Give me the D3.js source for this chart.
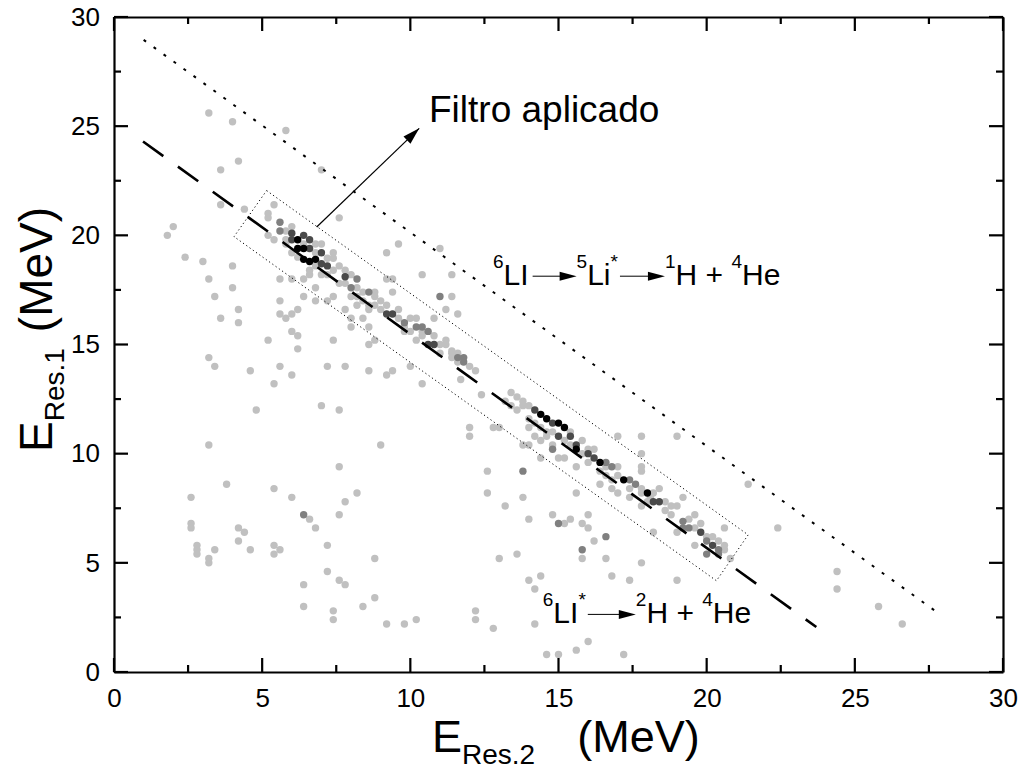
<!DOCTYPE html>
<html>
<head>
<meta charset="utf-8">
<script src="https://cdn.jsdelivr.net/npm/d3@7"></script>
<style>
body{margin:0;background:#fff;}
svg{display:block;font-family:"Liberation Sans",Arial,sans-serif;}
text{white-space:pre;}
</style>
</head>
<body>
<div id="chart"></div>
<script>
// events (E_Res.2, E_Res.1) in MeV, grouped by grey level
var lightPts = [
[3.2,25.6],[4.0,25.2],[5.8,24.8],[4.2,23.4],[3.6,23.0],[7.0,23.0],[3.6,21.4],[4.4,21.2],[5.4,21.4],[5.2,21.0],[5.2,20.8],[7.6,20.8],
[2.0,20.4],[1.8,20.0],[5.2,20.0],[5.4,19.8],[5.8,19.8],[2.4,19.0],[3.0,18.8],[4.0,18.6],[3.2,18.0],[4.0,17.6],[3.4,17.2],[4.2,16.6],
[3.6,16.2],[4.2,16.0],[5.2,15.2],[3.2,14.4],[3.4,14.0],[4.6,13.8],[5.4,13.2],[5.6,14.0],[6.0,13.6],[6.2,14.8],[6.0,15.6],[6.2,15.4],
[5.6,16.4],[5.8,16.2],[6.0,16.4],[6.2,16.6],[5.6,17.0],[5.6,18.0],[6.0,18.0],[6.4,18.0],[6.6,18.2],[6.4,17.2],[6.8,17.6],[6.8,17.0],
[7.2,17.0],[7.4,17.2],[7.4,15.2],[7.2,14.0],[7.8,14.0],[7.8,16.6],[8.0,16.2],[8.0,15.8],[8.4,16.2],[8.2,16.8],[8.6,15.0],[8.6,13.8],
[8.6,15.8],[9.6,19.6],[9.2,19.2],[11.0,19.4],[10.4,18.2],[11.4,18.2],[9.2,18.0],[9.4,18.0],[11.4,17.2],[9.4,17.4],[8.8,17.2],
[11.2,16.6],[8.6,16.8],[11.6,16.4],[10.0,16.2],[10.2,16.2],[10.8,16.2],[9.8,15.6],[10.4,15.4],[10.0,15.6],[11.2,15.0],[11.4,14.6],
[11.6,14.6],[11.0,14.6],[12.2,13.8],[11.7,13.4],[10.0,14.0],[9.4,13.8],[9.2,13.6],[10.4,13.2],[8.8,15.2],
[4.8,12.0],[7.0,12.2],[7.6,12.0],[3.2,10.4],[7.6,9.4],[3.8,8.6],[2.6,8.0],[5.4,8.4],[6.0,8.0],[8.2,8.2],[7.8,7.8],[2.6,6.8],[2.6,6.6],
[6.6,7.0],[6.8,6.6],[7.6,7.2],[4.2,6.6],[4.4,6.4],[4.2,6.0],[2.8,5.8],[2.8,5.6],[2.8,5.4],[3.4,5.6],[3.2,5.2],[3.2,5.0],[4.6,5.6],
[5.4,5.8],[5.6,5.6],[5.4,5.4],[7.2,5.8],[7.2,4.6],[6.4,4.0],[7.6,4.2],[7.8,4.0],[6.4,3.0],[7.4,2.8],[7.4,2.4],[8.4,3.0],
[12.4,12.7],[13.2,12.4],[13.4,12.8],[13.6,12.6],[13.8,12.4],[14.0,12.2],[12.0,11.2],[12.0,10.8],[12.8,11.2],[13.0,11.2],[9.0,10.4],
[13.8,10.4],[14.0,10.4],[14.4,9.8],[12.6,9.2],[12.6,8.2],[13.2,7.6],[13.8,8.0],[14.0,7.0],[14.8,7.2],[15.2,6.8],[15.6,8.2],[15.4,7.0],
[15.8,6.8],[16.0,7.2],[16.0,6.6],[16.2,6.0],[15.8,5.2],[16.6,5.2],[16.8,4.4],[17.4,4.2],[17.8,5.0],[19.0,4.2],[8.8,5.2],[8.8,3.4],
[13.0,5.2],[13.6,5.4],[14.0,4.2],[14.4,4.4],[14.2,3.8],[9.2,2.2],[9.8,2.2],[10.2,2.4],[12.2,2.8],[12.2,2.4],[12.8,2.0],[14.2,2.2],
[14.6,0.8],[15.0,0.8],[15.6,1.0],[16.0,1.4],[17.2,0.8],[17.8,7.6],[17.8,8.2],[18.1,8.0],
[17.8,10.8],[19.0,10.8],[17.0,10.8],[17.8,10.0],[17.8,9.4],[17.8,9.2],[21.4,8.6],[18.4,8.4],[19.2,8.0],[19.6,7.2],[20.6,6.6],[22.4,6.6],
[24.4,4.6],[24.4,3.8],[25.8,3.0],[26.6,2.2],[18.2,6.4],[19.0,6.4],
[5.8,20.2],[6.0,20.4],[6.8,19.2],[7.2,18.95],[7.4,18.95],[7.4,18.4],[7.8,18.4],[7.6,17.8],[7.8,17.8],[8.4,17.4],[8.8,17.4],[9.0,17.0],
[9.2,16.8],[11.2,15.2],[11.4,14.7],[11.4,14.4],[6.2,19.0],[6.8,19.6],[5.8,19.6],[7.0,18.2],[8.2,17.2],[6.6,18.4],[9.6,16.6],[10.2,15.2],
[7.4,19.2],[8.0,18.2],[8.4,17.0],
[6.4,19.6],[6.8,18.6],[7.2,18.2],[7.6,18.6],[8.0,17.2],[8.6,16.6],[8.8,16.8],[9.0,16.6],[9.6,16.2],[9.8,15.8],[10.4,15.6],[10.8,15.4],
[11.0,15.0],[11.6,14.2],[12.0,14.0],[8.2,17.6],[7.0,19.6],[6.0,19.2],
[13.8,12.2],[14.0,11.6],[14.4,11.2],[14.6,11.0],[14.8,11.0],[15.2,10.6],[15.4,11.0],[15.8,10.6],[15.8,10.0],[16.0,9.6],[16.4,9.2],
[16.6,9.0],[16.8,8.8],[17.0,9.0],[16.2,10.2],[14.2,10.8],[14.8,10.4],[15.2,9.8],[15.6,9.4],[17.4,8.4],[17.8,8.4],[18.6,7.8],[18.6,7.4],
[18.8,7.2],[19.0,7.6],[19.6,6.6],[20.0,6.2],[20.6,5.6],[20.2,6.2],[19.6,5.8],[20.8,5.2],[18.0,7.8],[17.0,8.2],[16.4,8.6],[13.6,12.0],
[14.0,11.2],[15.0,9.8],
[14.2,11.4],[14.6,10.8],[15.4,10.4],[16.0,10.2],[16.6,9.4],[17.0,9.4],[17.4,8.0],[18.2,8.2],[18.8,7.6],[19.4,7.0],[19.8,6.8],[20.4,6.0],
[20.6,5.8],[13.4,12.2],[14.4,10.6],[16.8,8.4]
];
var midPts = [
[5.6,20.6],[5.6,20.2],[8.2,18.0],[8.0,17.6],[8.6,17.4],[9.8,16.0],[10.2,15.8],[10.4,15.8],[10.6,15.6],[11.6,14.4],[11.8,14.4],[11.8,14.2],
[11.0,17.2],[6.4,7.2],[13.8,9.2],[14.8,10.2],[15.0,6.8],[16.6,6.2],[15.8,5.6],[16.6,9.6],[16.8,9.4],[17.4,8.8],[17.6,8.6],[19.2,6.9],
[19.2,6.6],[19.4,6.6],[20.0,6.0],[20.4,5.6],[20.0,5.4],[20.4,5.4]
];
var darkPts = [
[6.0,20.1],[6.0,19.8],[6.4,20.0],[6.6,19.8],[6.6,19.4],[7.0,19.2],[7.0,18.7],[7.2,18.6],[7.8,18.1],[9.2,16.4],[9.4,16.4],[10.6,15.0],
[10.8,15.0],[14.2,12.0],[14.8,11.4],[15.0,10.8],[15.4,10.8],[15.6,10.4],[16.0,10.0],[16.2,9.8],[18.2,7.8],[18.4,7.8],[19.8,6.4],[20.2,5.8]
];
var blackPts = [
[6.2,19.8],[6.2,19.4],[6.4,19.4],[6.8,18.9],[6.4,18.9],[6.6,18.8],[14.4,11.8],[14.6,11.6],[15.0,11.4],[15.2,11.2],[15.6,10.2],[16.4,9.6],
[17.2,8.8],[18.0,8.2]
];
var shadeColors = ["#c0c0c0","#808080","#4a4a4a","#000000"];

// guide lines and the filter box (data units)
var fitLine = [[0.98,24.3],[23.7,2.06]];
var limitLine = [[1.0,28.95],[27.85,2.66]];
var filterBox = [[5.15,22.05],[21.4,6.28],[20.33,4.18],[4.05,19.94]];
var filterArrow = [[6.84,20.38],[10.3,24.9]];

var majorTicks = [0,5,10,15,20,25,30];
var minorTicks = [2.5,7.5,12.5,17.5,22.5,27.5];

var w = 1019, h = 769;
var xScale = d3.scaleLinear().domain([0,30]).range([114,1003]);
var yScale = d3.scaleLinear().domain([0,30]).range([672,17]);

var svg = d3.select("#chart").append("svg").attr("width",w).attr("height",h);

// points, light first so the dense ones sit on top
[lightPts,midPts,darkPts,blackPts].forEach(function(arr,i){
  svg.append("g").selectAll("circle").data(arr).enter().append("circle")
    .attr("cx",function(d){return xScale(d[0]);})
    .attr("cy",function(d){return yScale(d[1]);})
    .attr("r",3.7)
    .attr("fill",shadeColors[i]);
});

var lineGen = d3.line().x(function(d){return xScale(d[0]);}).y(function(d){return yScale(d[1]);});

svg.append("path").attr("d",lineGen(fitLine)).attr("fill","none")
  .attr("stroke","#000").attr("stroke-width",2.6).attr("stroke-dasharray","25,18");
svg.append("path").attr("d",lineGen(limitLine)).attr("fill","none")
  .attr("stroke","#000").attr("stroke-width",2).attr("stroke-dasharray","3,9.3");
svg.append("path").attr("d",lineGen(filterBox)+"Z").attr("fill","none")
  .attr("stroke","#000").attr("stroke-width",1).attr("stroke-dasharray","1.2,2.8");

// arrow to the label
function arrowHead(g,x1,y1,x2,y2,len,wid){
  var a = Math.atan2(y2-y1,x2-x1);
  var bx = x2-len*Math.cos(a), by = y2-len*Math.sin(a);
  var ox = -Math.sin(a)*wid/2, oy = Math.cos(a)*wid/2;
  g.append("path").attr("d","M"+x2+","+y2+"L"+(bx+ox)+","+(by+oy)+"L"+(bx-ox)+","+(by-oy)+"Z").attr("fill","#000");
}
var ax1=xScale(filterArrow[0][0]), ay1=yScale(filterArrow[0][1]), ax2=xScale(filterArrow[1][0]), ay2=yScale(filterArrow[1][1]);
svg.append("line").attr("x1",ax1).attr("y1",ay1).attr("x2",ax2).attr("y2",ay2)
  .attr("stroke","#000").attr("stroke-width",1.2);
arrowHead(svg,ax1,ay1,ax2,ay2,17,10);

// inward ticks on all four sides, drawn as thin filled rects from the scales
var tickG = svg.append("g").attr("class","ticks");
function ticksX(vals,yPos,len){
  vals.forEach(function(v){
    tickG.append("rect")
      .attr("x",xScale(v)-1.1).attr("y",Math.min(yPos,yPos+len)).attr("width",2.2).attr("height",Math.abs(len))
      .attr("fill","#000");
  });
}
function ticksY(vals,xPos,len){
  vals.forEach(function(v){
    tickG.append("rect")
      .attr("y",yScale(v)-1.1).attr("x",Math.min(xPos,xPos+len)).attr("height",2.2).attr("width",Math.abs(len))
      .attr("fill","#000");
  });
}
ticksX(majorTicks,672,-14); ticksX(minorTicks,672,-7);
ticksX(majorTicks,17,14);   ticksX(minorTicks,17,7);
ticksY(majorTicks,114,14);  ticksY(minorTicks,114,7);
ticksY(majorTicks,1003,-14); ticksY(minorTicks,1003,-7);

// frame + tick labels from d3 axes
function addAxis(gen,tr,labels,pad){
  var a = gen.tickValues(majorTicks).tickSize(0).tickPadding(pad||0);
  if(!labels) a.tickFormat("");
  var g = svg.append("g").attr("class","axis").attr("transform",tr).call(a);
  g.select(".domain").attr("stroke","#000").attr("stroke-width",2.2);
  g.selectAll("text").attr("fill","#000").style("font-size","26px")
    .style("font-family","'Liberation Sans',Arial,sans-serif");
}
addAxis(d3.axisBottom(xScale),"translate(0,672)",true,17);
addAxis(d3.axisTop(xScale),"translate(0,17)",false);
addAxis(d3.axisLeft(yScale),"translate(114,0)",true,14);
addAxis(d3.axisRight(yScale),"translate(1003,0)",false);

// text with super/subscripts and drawn arrows
function richText(g,x0,y0,parts,size,small,shift){
  var cx = x0;
  parts.forEach(function(p){
    if(p.gap && !p.arrow){ cx += p.gap; }
    if(p.arrow){
      cx += p.gap||0;
      var ay = y0-size*0.29;
      g.append("line").attr("x1",cx).attr("y1",ay).attr("x2",cx+p.arrow-14).attr("y2",ay)
        .attr("stroke","#000").attr("stroke-width",1);
      arrowHead(g,cx,ay,cx+p.arrow,ay,17,9);
      cx += p.arrow;
      return;
    }
    if(p.t===undefined) return;
    var fs = (p.sup||p.sub)?small:size;
    var t = g.append("text").attr("x",cx).attr("y",y0+(p.sup?-shift:(p.sub?shift:0)))
      .style("font-size",fs+"px").attr("fill","#000").text(p.t);
    cx += t.node().getComputedTextLength();
  });
}

svg.append("text").attr("x",xScale(10.63)).attr("y",yScale(25.2)).style("font-size","37px").text("Filtro aplicado");

richText(svg,xScale(12.79),yScale(17.73),[
  {t:"6",sup:true},{t:"LI"},{arrow:44,gap:4},{t:"5",sup:true},{t:"Li"},{t:"*",sup:true},
  {arrow:45,gap:2},{t:"1",sup:true},{t:"H + "},{t:"4",sup:true},{t:"He"}
],30,19,17);

richText(svg,xScale(14.47),yScale(2.24),[
  {t:"6",sup:true},{t:"LI"},{t:"*",sup:true},{arrow:48,gap:2},{t:"2",sup:true},{t:"H + "},{t:"4",sup:true},{t:"He"}
],30,19,17);

// axis titles
richText(svg,432,752,[{t:"E"},{t:"Res.2",sub:true},{gap:42},{t:"(MeV)"}],45,28,12);
var yt = svg.append("g").attr("transform","translate(52,452) rotate(-90)");
richText(yt,0,0,[{t:"E"},{t:"Res.1",sub:true},{gap:16},{t:"(MeV)"}],46,28,12);
</script>
</body>
</html>
